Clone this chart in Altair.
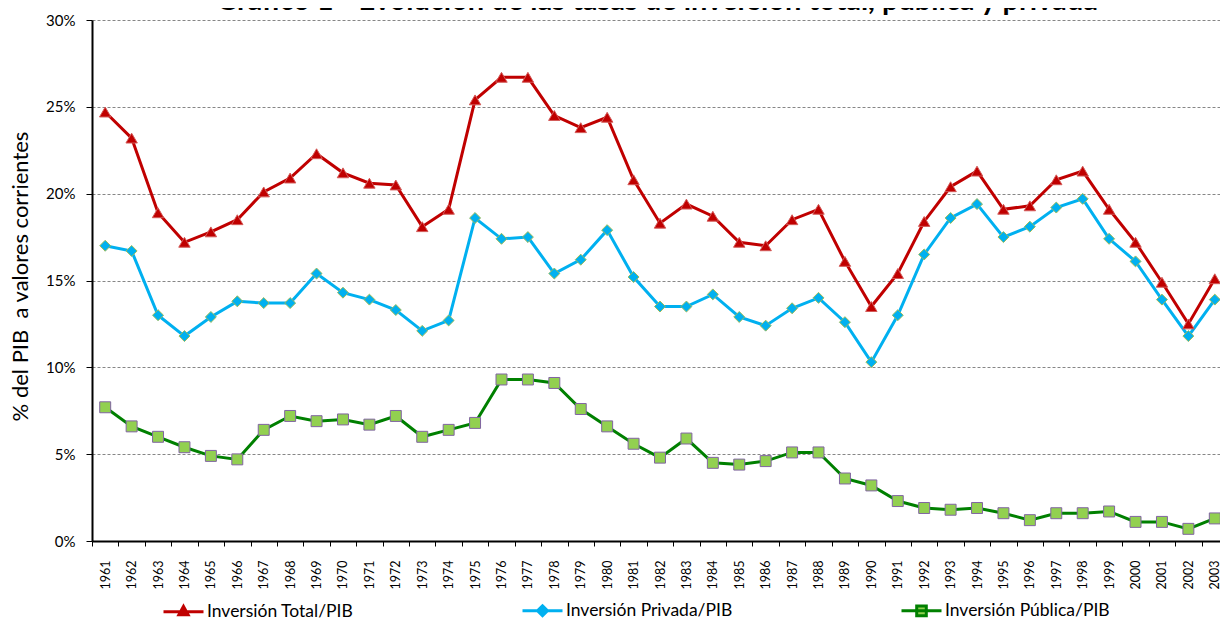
import altair as alt
import pandas as pd

years = [str(y) for y in range(1961, 2004)]
total = [24.7, 23.2, 18.9, 17.2, 17.8, 18.5, 20.1, 20.9, 22.3, 21.2,
         20.6, 20.5, 18.1, 19.1, 25.4, 26.7, 26.7, 24.5, 23.8, 24.4,
         20.8, 18.3, 19.4, 18.7, 17.2, 17.0, 18.5, 19.1, 16.1, 13.5,
         15.4, 18.4, 20.4, 21.3, 19.1, 19.3, 20.8, 21.3, 19.1, 17.2,
         14.9, 12.5, 15.1]
privada = [17.0, 16.7, 13.0, 11.8, 12.9, 13.8, 13.7, 13.7, 15.4, 14.3,
           13.9, 13.3, 12.1, 12.7, 18.6, 17.4, 17.5, 15.4, 16.2, 17.9,
           15.2, 13.5, 13.5, 14.2, 12.9, 12.4, 13.4, 14.0, 12.6, 10.3,
           13.0, 16.5, 18.6, 19.4, 17.5, 18.1, 19.2, 19.7, 17.4, 16.1,
           13.9, 11.8, 13.9]
publica = [7.7, 6.6, 6.0, 5.4, 4.9, 4.7, 6.4, 7.2, 6.9, 7.0,
           6.7, 7.2, 6.0, 6.4, 6.8, 9.3, 9.3, 9.1, 7.6, 6.6,
           5.6, 4.8, 5.9, 4.5, 4.4, 4.6, 5.1, 5.1, 3.6, 3.2,
           2.3, 1.9, 1.8, 1.9, 1.6, 1.2, 1.6, 1.6, 1.7, 1.1,
           1.1, 0.7, 1.3]

series = ["Inversión Total/PIB", "Inversión Privada/PIB", "Inversión Pública/PIB"]
line_colors = ["#C00000", "#00B0F0", "#008000"]
marker_fills = ["#C00000", "#00B0F0", "#92D050"]
marker_borders = ["#D35A58", "#9BBB59", "#8064A2"]
marker_shapes = ["triangle-up", "diamond", "square"]
marker_sizes = [130, 120, 120]
legend_paths = [
    "M-1,0H1M0,-0.26L0.23,0.16H-0.23Z",
    "M-1,0H1M0,-0.25L0.25,0L0,0.25L-0.25,0Z",
    "M-1,0H1M-0.24,-0.24H0.24V0.24H-0.24Z",
]
y_ticks = [0, 5, 10, 15, 20, 25, 30]
title_text = "Gráfico 1 - Evolución de las tasas de inversión total, pública y privada"
y_title = "% del PIB\u00a0 a valores corrientes"

rows = []
for name, vals in zip(series, [total, privada, publica]):
    for yr, v in zip(years, vals):
        rows.append({"year": yr, "value": v, "series": name})
df = pd.DataFrame(rows)

FONT = "Lato"

x_enc = alt.X(
    "year:O", title=None, sort=years,
    scale=alt.Scale(type="band", paddingInner=0, paddingOuter=0),
    axis=alt.Axis(labelAngle=270, labelFont=FONT, labelFontSize=12.5, labelColor="#000",
                  labelPadding=14, tickBand="extent", tickSize=5, tickColor="#000",
                  tickWidth=1, domainColor="#000", domainWidth=2, grid=False,
                  labelOverlap=False),
)
y_enc = alt.Y(
    "value:Q",
    scale=alt.Scale(domain=[0, 30], nice=False, zero=True),
    axis=alt.Axis(values=y_ticks, labelExpr="datum.value + '%'", labelFont=FONT,
                  labelFontSize=15, labelColor="#000", labelPadding=11,
                  tickSize=6, tickColor="#000", tickWidth=1,
                  domainColor="#000", domainWidth=2,
                  grid=True, gridColor="#868686", gridDash=[3, 2], gridWidth=1,
                  title=y_title, titleFont=FONT, titleFontSize=22,
                  titleFontWeight="normal", titleColor="#000", titleAngle=270,
                  titleX=-72, titleY=256, titleAlign="center", titleBaseline="middle"),
)

legend = alt.Legend(title=None, orient="none", legendX=70, legendY=569,
                    direction="horizontal", columns=3, columnPadding=162, padding=0,
                    symbolSize=1600, symbolStrokeWidth=3, symbolOpacity=1,
                    labelFont=FONT, labelFontSize=17.5, labelColor="#000",
                    labelOffset=2, labelLimit=0)

base = alt.Chart(df)

lines = base.mark_line(strokeWidth=3).encode(
    x=x_enc, y=y_enc,
    stroke=alt.Stroke("series:N", sort=series,
                      scale=alt.Scale(domain=series, range=line_colors), legend=legend),
)

point_layers = []
for name, shp, size, border in zip(series, marker_shapes, marker_sizes, marker_borders):
    point_layers.append(
        base.transform_filter(alt.datum.series == name)
        .mark_point(shape=shp, filled=True, size=size, stroke=border,
                    strokeWidth=1, opacity=1)
        .encode(
            x=x_enc, y=y_enc,
            fill=alt.Fill("series:N", sort=series,
                          scale=alt.Scale(domain=series, range=marker_fills),
                          legend=legend),
        )
    )

legend_layer = base.transform_filter("false").mark_point().encode(
    shape=alt.Shape("series:N", sort=series,
                    scale=alt.Scale(domain=series, range=legend_paths), legend=legend),
)

chart = alt.layer(lines, *point_layers, legend_layer).properties(
    width=1136,
    height=521,
    title=alt.Title(title_text, font=FONT, fontSize=29, fontWeight="bold",
                    color="#000", anchor="middle", frame="group", offset=0,
                    dx=-3, dy=3),
    padding={"left": 84, "top": 12, "right": -8, "bottom": 95},
    autosize=alt.AutoSizeParams(type="none"),
).configure_view(stroke=None)

chart.save("out.html", embed_options={"renderer": "svg", "actions": False})
